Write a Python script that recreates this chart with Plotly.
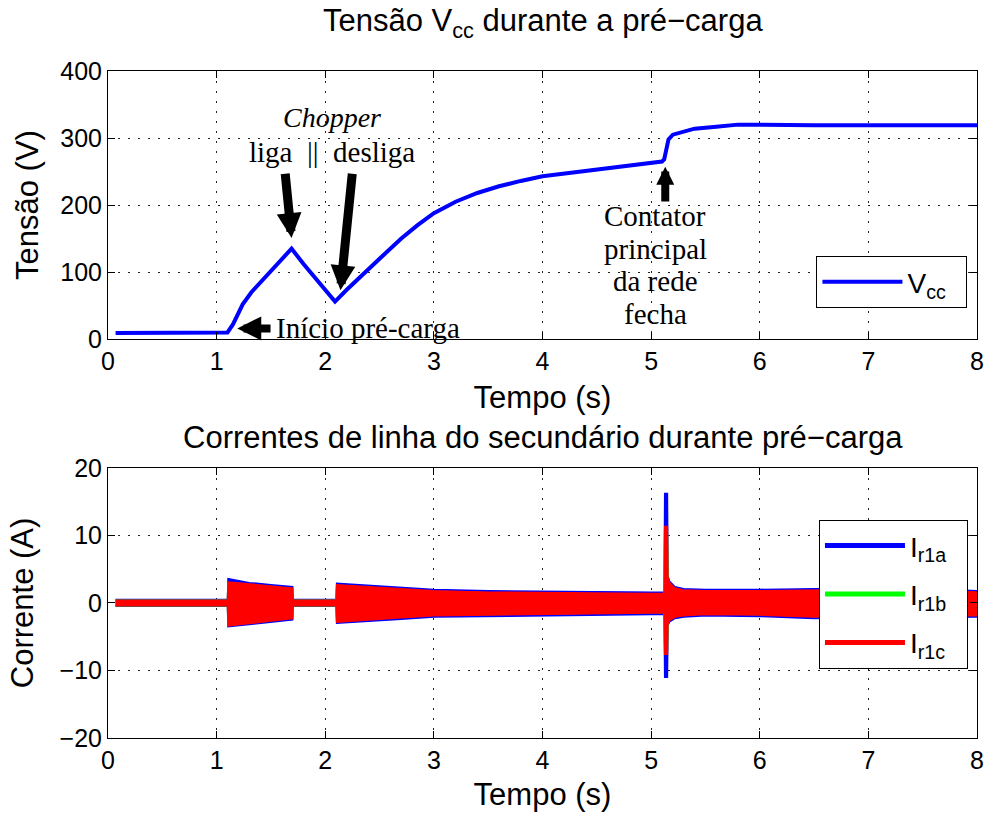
import plotly.graph_objects as go

# ---- DC-link voltage during pre-charge ----
t_vcc = [0.07, 0.5, 1.0, 1.10, 1.15, 1.20, 1.24, 1.32, 1.40, 1.50, 1.60, 1.69,
         1.80, 1.90, 2.00, 2.09, 2.20, 2.35, 2.50, 2.70, 2.85, 3.00, 3.20,
         3.40, 3.60, 3.80, 4.00, 4.30, 4.60, 5.00, 5.10, 5.12, 5.14, 5.16,
         5.20, 5.30, 5.40, 5.60, 5.80, 6.50, 7.20, 8.00]
vcc = [9, 9, 9, 10, 22, 40, 52, 70, 84, 103, 120, 135,
       112, 92, 72, 56, 74, 98, 120, 150, 170, 188, 205,
       218, 228, 236, 243, 249, 255, 262, 265, 268, 285, 298,
       305, 310, 314, 317, 320, 319, 319, 319]

# ---- secondary line currents: envelope (max / min) of each phase ----
t_env = [0.07, 1.10, 1.105, 1.3, 1.5, 1.70, 1.705, 2.10, 2.105, 2.4, 2.7, 3.0,
         3.5, 4.0, 4.5, 5.0, 5.12, 5.125, 5.15, 5.155, 5.17, 5.22, 5.3, 5.5,
         6.0, 6.5, 7.0, 7.5, 8.0]
ia_max = [0.5, 0.5, 3.6, 3.0, 2.7, 2.4, 0.5, 0.5, 2.9, 2.6, 2.3, 2.0,
          1.8, 1.7, 1.6, 1.6, 1.6, 16.2, 16.2, 4.0, 3.2, 2.4, 2.1, 2.0,
          2.0, 2.1, 2.2, 2.1, 1.8]
ia_min = [-0.5, -0.5, -3.5, -3.2, -2.9, -2.5, -0.5, -0.5, -3.0, -2.7, -2.4, -2.1,
          -1.9, -1.8, -1.8, -1.7, -1.7, -11.0, -11.0, -3.3, -2.8, -2.3, -2.1, -1.9,
          -2.0, -2.3, -2.2, -2.1, -2.1]
ib_max = [0.4, 0.4, 3.0, 2.7, 2.4, 2.1, 0.4, 0.4, 2.6, 2.3, 2.0, 1.7,
          1.5, 1.4, 1.3, 1.3, 1.3, 10.5, 10.5, 3.6, 2.9, 2.1, 1.8, 1.7,
          1.7, 1.8, 1.9, 1.8, 1.5]
ib_min = [-0.4, -0.4, -3.3, -2.9, -2.6, -2.2, -0.4, -0.4, -2.7, -2.4, -2.1, -1.8,
          -1.6, -1.5, -1.5, -1.4, -1.4, -7.2, -7.2, -3.0, -2.5, -2.0, -1.8, -1.6,
          -1.7, -2.0, -1.9, -1.8, -1.8]
ic_max = [0.4, 0.4, 3.1, 2.8, 2.5, 2.2, 0.4, 0.4, 2.7, 2.4, 2.1, 1.8,
          1.6, 1.5, 1.4, 1.4, 1.4, 11.3, 11.3, 3.8, 3.0, 2.2, 1.9, 1.8,
          1.8, 1.9, 2.0, 1.9, 1.6]
ic_min = [-0.4, -0.4, -3.4, -3.0, -2.7, -2.3, -0.4, -0.4, -2.85, -2.5, -2.2, -1.9,
          -1.7, -1.6, -1.6, -1.5, -1.5, -7.6, -7.6, -3.1, -2.6, -2.1, -1.9, -1.7,
          -1.8, -2.1, -2.0, -1.9, -1.9]

x_ticks = [0, 1, 2, 3, 4, 5, 6, 7, 8]
v_ticks = [0, 100, 200, 300, 400]
i_ticks = [-20, -10, 0, 10, 20]

SANS = "Liberation Sans, Arial, sans-serif"
SERIF = "Liberation Serif, Times New Roman, serif"
BLUE, GREEN, RED = "#0000ff", "#00ff00", "#ff0000"
PAD = "\u00a0\u00a0"

fig = go.Figure()

# Vcc curve
fig.add_trace(go.Scatter(
    x=t_vcc, y=vcc, mode="lines", name="V<sub>cc</sub>" + PAD,
    line=dict(color=BLUE, width=4), xaxis="x", yaxis="y", legend="legend"))

# current bands (filled between envelope max and min)
def band(t, ymax, ymin, color):
    xs = list(t) + list(reversed(t))
    ys = list(ymax) + list(reversed(ymin))
    return go.Scatter(x=xs, y=ys, mode="lines", fill="toself", fillcolor=color,
                      line=dict(color=color, width=1.5), showlegend=False,
                      hoverinfo="skip", xaxis="x2", yaxis="y2")

fig.add_trace(band(t_env, ia_max, ia_min, BLUE))
fig.add_trace(band(t_env, ib_max, ib_min, GREEN))
fig.add_trace(band(t_env, ic_max, ic_min, RED))

# legend entries for the three phases
for name, color in [("I<sub>r1a</sub>", BLUE), ("I<sub>r1b</sub>", GREEN),
                    ("I<sub>r1c</sub>", RED)]:
    fig.add_trace(go.Scatter(x=[None], y=[None], mode="lines", name=name + PAD,
                             legendgroup=name, line=dict(color=color, width=5),
                             xaxis="x2", yaxis="y2", legend="legend2"))

axis_common = dict(
    showline=True, linecolor="black", linewidth=1, mirror="ticks",
    ticks="inside", ticklen=7, tickcolor="black", tickwidth=1,
    showgrid=True, gridcolor="#222222", gridwidth=1, griddash="2px,8px",
    zeroline=False, automargin=False,
    tickfont=dict(family=SANS, size=25, color="black"),
)

fig.update_layout(
    width=985, height=816,
    margin=dict(l=108, r=8, t=71, b=78),
    paper_bgcolor="white", plot_bgcolor="white",
    font=dict(family=SANS, color="black"),
    xaxis=dict(domain=[0, 1], range=[0, 8], tickvals=x_ticks, anchor="y",
               title=dict(text="Tempo (s)", font=dict(size=31), standoff=12),
               **axis_common),
    yaxis=dict(domain=[0.598, 1], range=[0, 400], tickvals=v_ticks, anchor="x",
               title=dict(text="Tensão (V)", font=dict(size=31), standoff=12),
               **axis_common),
    xaxis2=dict(domain=[0, 1], range=[0, 8], tickvals=x_ticks, anchor="y2",
                title=dict(text="Tempo (s)", font=dict(size=31), standoff=10),
                **axis_common),
    yaxis2=dict(domain=[0, 0.405], range=[-20, 20], tickvals=i_ticks, anchor="x2",
                title=dict(text="Corrente (A)", font=dict(size=31), standoff=16),
                **axis_common),
    legend=dict(x=0.989, y=0.7226, xanchor="right", yanchor="top",
                bgcolor="white", bordercolor="black", borderwidth=1,
                font=dict(family=SANS, size=28), itemwidth=80),
    legend2=dict(x=0.9896, y=0.327, xanchor="right", yanchor="top",
                 bgcolor="white", bordercolor="black", borderwidth=1,
                 font=dict(family=SANS, size=28), itemwidth=80,
                 tracegroupgap=9),
    showlegend=True,
)

annotations = [
    dict(text="Tensão V<sub>cc</sub> durante a pré−carga", xref="paper", yref="paper",
         x=0.5, y=1.072, xanchor="center", yanchor="middle", showarrow=False,
         font=dict(family=SANS, size=31)),
    dict(text="Correntes de linha do secundário durante pré−carga", xref="paper",
         yref="paper", x=0.5, y=0.45, xanchor="center", yanchor="middle",
         showarrow=False, font=dict(family=SANS, size=31)),
    # chopper labels
    dict(text="<i>Chopper</i>", xref="x", yref="y", x=2.06, y=330, showarrow=False,
         font=dict(family=SERIF, size=28)),
    dict(text="liga  ||  desliga", xref="x", yref="y", x=2.06, y=279, showarrow=False,
         font=dict(family=SERIF, size=29)),
    dict(text="Início pré-carga", xref="x", yref="y", x=2.39, y=16, showarrow=False,
         font=dict(family=SERIF, size=29)),
]
for i, line in enumerate(["Contator", "principal", "da rede", "fecha"]):
    annotations.append(dict(text=line, xref="x", yref="y", x=5.04,
                            y=184 - i * 49, showarrow=False,
                            font=dict(family=SERIF, size=29)))

arrow = dict(text="", showarrow=True, arrowhead=2, arrowcolor="black",
             xref="x", yref="y", axref="x", ayref="y", standoff=0)
annotations += [
    dict(x=1.69, y=151, ax=1.63, ay=249, arrowwidth=9, arrowsize=0.55, **arrow),
    dict(x=2.14, y=73, ax=2.25, ay=249, arrowwidth=9, arrowsize=0.55, **arrow),
    dict(x=1.19, y=16, ax=1.51, ay=16, arrowwidth=8, arrowsize=0.6, **arrow),
    dict(x=5.13, y=257, ax=5.13, ay=203, arrowwidth=8, arrowsize=0.45, **arrow),
]
fig.update_layout(annotations=annotations)

fig.write_html("out.html")
